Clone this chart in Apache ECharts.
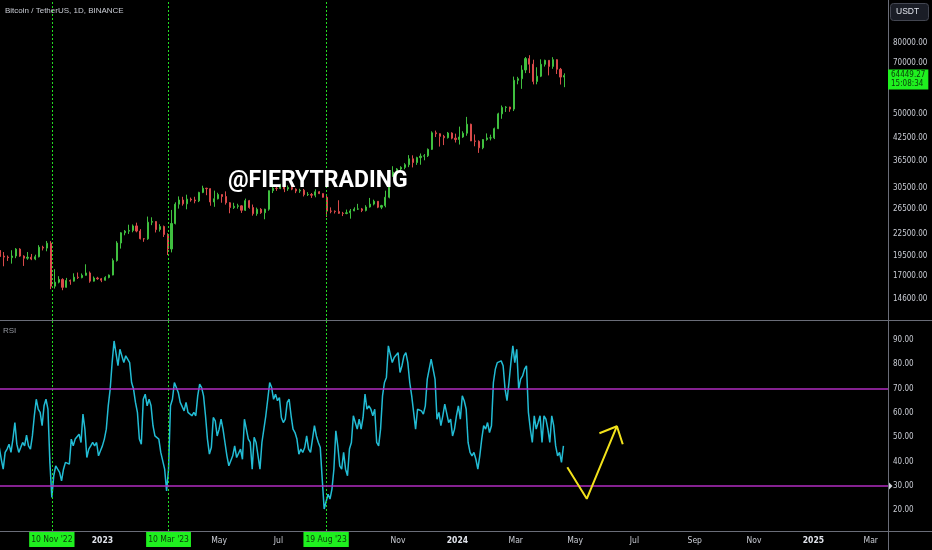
<!DOCTYPE html>
<html lang="en">
<head>
<meta charset="UTF-8">
<title>BTCUSDT 1D + RSI</title>
<style>
  *{margin:0;padding:0;}
  body{background:#000;}
  #main{width:932px;height:550px;}
</style>
<script src="https://cdn.jsdelivr.net/npm/echarts@6/dist/echarts.min.js"></script>
</head>
<body>
<div id="main"></div>
<script>
// BTC/USDT, one candle every 4 days: [open, close, low, high]
const candleStart = '2022-09-18';
const candleStep = 4;
const candles = [
  [19700,19420,19320,20200],[19420,19290,18150,19950],[19290,19220,18800,19500],[19220,19430,18470,20190],
  [19430,20340,19150,20480],[20340,19420,19320,20460],[19420,19150,18190,19520],[19150,19270,18950,19950],
  [19270,19040,18900,19700],[19040,19330,18900,19600],[19330,20600,19250,20880],[20600,20480,20160,20800],
  [20480,21150,20050,21470],[21150,15900,15590,21450],[15900,16330,15650,17800],[16330,16630,16200,16990],
  [16630,15780,15480,16760],[15780,16510,15750,16800],[16510,16440,16050,16620],[16440,16880,16400,17320],
  [16880,16830,16680,17410],[16830,17090,16750,17300],[17090,17360,17050,18390],
  [17360,16440,16270,17530],[16440,16780,16400,16960],[16780,16700,16590,16920],[16700,16540,16330,16790],
  [16540,16850,16500,16990],[16850,17120,16750,17180],[17120,18850,17090,19120],[18850,21180,18720,21440],
  [21180,22670,20410,22760],[22670,22920,22300,23080],[22920,23030,22500,23920],[23030,23730,22750,23960],
  [23730,22930,22740,24250],[22930,21800,21690,23230],[21800,21780,21350,21900],[21780,24320,21640,25250],
  [24320,24430,23850,25130],[24430,23170,22720,24480],[23170,23640,22850,24000],[23640,22410,22050,23780],
  [22410,20360,19550,22600],[20360,24110,19900,26390],[24110,27420,23970,27760],[27420,28180,26620,28870],
  [28180,27480,27150,28800],[27480,28350,26500,29200],[28350,28190,27870,28650],[28190,28030,27580,28800],
  [28030,29650,27800,29770],[29650,30480,29500,31000],[30480,30390,29100,30570],[30390,27820,27140,30470],
  [27820,28420,26940,30000],[28420,29230,28300,29580],[29230,28850,27680,29260],[28850,27680,27330,29850],
  [27680,26800,25810,27800],[26800,27030,26560,27670],[27030,27110,26620,27500],[27110,26330,25870,27200],
  [26330,28070,26200,28450],
  [28070,26820,26600,28200],[26820,25740,25400,27350],[25740,26500,25380,26800],[26500,25910,25700,26700],
  [25910,26510,24800,26600],[26510,29990,26250,30020],[29990,30470,29520,31430],[30470,30450,29950,31050],
  [30450,31160,30300,31380],[31160,30340,29700,31300],[30340,30620,29950,31050],[30620,30300,30080,31820],
  [30300,29920,29500,30450],[29920,30080,29550,30380],[30080,29210,28860,30340],[29210,29230,28950,29700],
  [29230,29100,28580,29530],[29100,29770,28700,30250],[29770,29410,29320,29900],[29410,28700,28650,29450],
  [28700,26190,25170,29100],[26190,26160,25810,26840],[26160,26100,25770,26300],[26100,25800,25700,28140],
  [25800,25780,25330,26050],[25780,25900,25640,26450],[25900,26220,24900,26560],[26220,26530,26170,26850],
  [26530,26570,26380,27480],[26570,26300,26010,26740],[26300,26910,26130,27230],[26910,27430,26800,28580],
  [27430,27950,27200,28250],[27950,26870,26700,27990],[26870,27160,26530,27300],[27160,28710,26850,30000],
  [28710,33080,28500,33650],[33080,33910,32880,35280],[33910,34640,33390,34850],[34640,35010,34100,35280],
  [35010,35640,34580,36000],[35640,37070,35060,37980],[37070,36160,35000,37930],[36160,37360,35600,37580],
  [37360,37720,35630,38400],[37720,37820,36700,38250],[37820,39460,37500,39700],[39460,44050,39300,44490],
  [44050,43790,42820,44700],[43790,43020,40200,43900],[43020,42650,40600,43450],[42650,43980,42400,44300],
  [43980,42520,42200,44200],[42520,42140,41300,43800],[42140,42840,40750,45900],[42840,43940,42600,44500],
  [43940,46630,43200,48970],[46630,41730,41700,46800],[41730,41620,40280,43580],[41620,39880,38550,41900],
  [39880,42120,39500,42250],[42120,42580,41800,43880],[42580,42600,41880,43500],[42600,45290,42250,45600],
  [45290,49960,45140,50340],[49960,52140,48350,52820],[52140,52260,50600,52580],[52260,51570,50650,52380],
  [51570,62430,50900,64000],[62430,63110,60800,63900],[63110,66880,59000,69000],
  [66880,72120,65500,72900],[72120,69500,65500,73780],[69500,61960,60770,71600],[61960,64160,60800,68100],
  [64160,69450,63780,71780],[69450,71300,68400,71600],[71300,68490,64500,71350],[68490,71620,67400,72800],
  [71620,67190,65100,71800],[67190,63790,60700,67800],[63790,64450,59650,65400]
];

// RSI(14), one reading every 2 days
const rsiStart = '2022-09-17';
const rsiStep = 2;
const rsi = [
  45.7,40.9,36.8,43.7,45.1,47.1, 43.7,49.2,56.0,47.1,43.7,45.7, 47.8,46.4,50.8,46.4,45.1,50.5,
  58.8,65.6,61.5,60.2,54.7,62.9, 65.6,61.5,39.6,25.2,34.1,38.2, 36.8,35.5,32.0,36.8,39.6,40.3,
  38.9,49.2,46.4,49.2,49.9,51.2, 47.8,59.5,53.3,41.6,45.1,46.4, 47.8,46.4,47.8,42.3,44.4,46.4,
  49.2,53.3,62.9,69.8,80.7,89.6, 89.0,79.4,86.2,85.5,80.7,83.5, 82.8,80.7,72.5,69.8,64.3,60.2,
  49.2,47.1,65.6,67.7,62.9,65.6, 62.9,54.7,50.5,50.5,49.2,43.7, 43.0,36.8,27.9,36.8,62.9,65.6,
  72.5,71.8,68.4,64.3,65.0,60.8, 64.3,60.2,60.8,58.8,60.2,58.8, 67.0,71.8,70.4,67.0,58.8,49.2,
  43.0,45.7,58.1,56.7,50.5,53.3, 57.4,53.3,47.8,42.3,38.2,40.3, 42.3,46.4,41.6,40.9,45.1,40.9,
  57.4,53.3,49.2,47.8,36.8,49.9, 47.8,42.3,36.8,47.8,53.3,58.8, 65.6,72.5,70.4,65.6,67.7,65.0,
  66.3,58.1,56.0,57.4,64.3,65.6, 58.8,53.3,51.9,49.2,43.0,45.1, 43.7,45.7,50.5,45.1,43.7,43.0,
  54.7,50.5,47.8,45.7,32.7,20.4, 19.7,26.5,24.5,28.6,36.8,52.6, 46.4,38.2,36.8,43.7,36.8,34.1,
  45.1,47.8,58.8,56.0,53.3,57.4, 53.3,58.1,67.7,61.5,62.9,61.5, 58.8,61.5,47.8,46.4,53.3,67.0,
  72.5,74.6,87.6,88.3,80.7,82.8, 83.5,84.8,76.6,79.4,83.5,84.8, 80.7,72.5,67.0,60.2,53.3,61.5,
  61.5,60.8,59.5,62.9,73.9,78.0, 82.1,78.0,73.9,57.4,60.2,54.7, 58.8,63.6,62.9,56.0,57.4,50.5,
  53.3,58.8,62.9,57.4,67.0,65.0, 61.5,47.8,43.7,42.3,43.7,40.9, 36.8,42.3,49.2,54.7,53.3,56.0,
  51.9,54.7,72.5,78.0,80.7,81.4, 81.4,79.4,69.8,65.0,72.5,80.7, 87.6,80.7,86.2,69.8,73.9,75.2,
  78.0,79.4,60.2,53.3,47.8,58.8, 53.3,56.0,58.8,47.8,58.8,57.4, 53.3,47.8,58.8,54.7,46.4,42.3,
  43.7,39.6,46.4
];

const priceTicks = [14600, 17000, 19500, 22500, 26500, 30500, 36500, 42500, 50000, 60000, 70000, 80000];
const rsiTicks = [20, 30, 40, 50, 60, 70, 80, 90];
const rsiBands = [70, 30];
const timeTicks = ['2023-01-01','2023-05-01','2023-07-01','2023-11-01','2024-01-01','2024-03-01',
                   '2024-05-01','2024-07-01','2024-09-01','2024-11-01','2025-01-01','2025-03-01'];
const markedDays = [['2022-11-10', "10 Nov '22"], ['2023-03-10', "10 Mar '23"], ['2023-08-19', "19 Aug '23"]];
const lastPrice = 64449.27;
const lastTime = '15:08:34';
// hand drawn projection on the RSI pane
const arrowPath = [['2024-04-23', 37.6], ['2024-05-13', 24.6], ['2024-06-13', 54.5]];
const arrowHead = [['2024-05-26', 51.6], ['2024-06-13', 54.5], ['2024-06-19', 47.1]];

const DAY = 864e5;
const day = s => Date.parse(s + 'T00:00:00Z');
const xMin = Date.UTC(2022, 8, 17, 17);
const xMax = Date.UTC(2025, 2, 18, 17);
const months = ['Jan','Feb','Mar','Apr','May','Jun','Jul','Aug','Sep','Oct','Nov','Dec'];

const txt = '#c9ccd4';
const axisFont = "'Liberation Sans Narrow', 'DejaVu Sans Condensed', sans-serif";
const up = '#3fbf3f', down = '#d94a4a';
const sepColor = '#6a6d78';
const purple = '#b02cc0';

let chart = echarts.init(document.getElementById('main'));

// x axes are plain value axes holding UTC timestamps
let candleData = candles.map((c, i) => [day(candleStart) + i * candleStep * DAY, c[0], c[1], c[2], c[3]]);
let rsiData = rsi.map((v, i) => [day(rsiStart) + i * rsiStep * DAY, v]);

let dotted = {color: '#22dd22', type: [2, 2], width: 1};

let option = {
  backgroundColor: '#000',
  animation: false,
  title: [
    {text: 'Bitcoin / TetherUS, 1D, BINANCE', left: 5, top: 7, padding: 0,
     textStyle: {color: txt, fontSize: 8, fontWeight: 'normal', fontFamily: 'sans-serif'}},
    {text: 'RSI', left: 3, top: 327, padding: 0,
     textStyle: {color: '#9598a1', fontSize: 8, fontWeight: 'normal', fontFamily: 'sans-serif'}}
  ],
  grid: [
    {left: 0, right: 44, top: 0, height: 320},
    {left: 0, right: 44, top: 320, height: 211}
  ],
  xAxis: [
    {type: 'value', gridIndex: 0, min: xMin, max: xMax, show: false},
    {type: 'value', gridIndex: 1, min: xMin, max: xMax,
     axisLine: {show: false}, axisTick: {show: false}, splitLine: {show: false},
     axisLabel: {
       customValues: timeTicks.map(day), margin: 5, color: txt, fontSize: 8.5, fontFamily: axisFont,
       formatter: v => {
         let d = new Date(v);
         return d.getUTCMonth() === 0 ? '{y|' + d.getUTCFullYear() + '}' : months[d.getUTCMonth()];
       },
       rich: {y: {fontWeight: 'bold', color: '#e0e3eb', fontSize: 8.5, fontFamily: axisFont}}
     }}
  ],
  yAxis: [
    {type: 'log', gridIndex: 0, position: 'right', min: 12700, max: 106460,
     axisLine: {show: false}, axisTick: {show: false}, splitLine: {show: false},
     axisLabel: {customValues: priceTicks, formatter: v => Math.round(v).toFixed(2),
                 color: txt, fontSize: 8, fontFamily: axisFont, margin: 5}},
    {type: 'value', gridIndex: 1, position: 'right', min: 11.35, max: 98.24,
     axisLine: {show: false}, axisTick: {show: false}, splitLine: {show: false},
     axisLabel: {customValues: rsiTicks, formatter: v => v.toFixed(2),
                 color: txt, fontSize: 8, fontFamily: axisFont, margin: 5}}
  ],
  series: [
    {
      name: 'BTCUSDT', type: 'candlestick', xAxisIndex: 0, yAxisIndex: 0,
      data: candleData, barWidth: 1.6,
      itemStyle: {color: up, color0: down, borderColor: up, borderColor0: down, borderWidth: 1},
      markLine: {
        silent: true, symbol: 'none', lineStyle: dotted, label: {show: false},
        data: markedDays.map(d => ({xAxis: day(d[0])})).concat([{
          yAxis: lastPrice,
          lineStyle: {color: 'rgba(0,0,0,0)', type: 'solid'},
          label: {
            show: true, position: 'end', distance: 0, offset: [0, 4],
            formatter: lastPrice.toFixed(2) + '\n' + lastTime,
            backgroundColor: '#1ff01f', color: '#0a3a0a', fontSize: 8, lineHeight: 9,
            fontFamily: axisFont, padding: [1, 3, 1, 3]
          }
        }])
      }
    },
    {
      name: 'RSI', type: 'line', xAxisIndex: 1, yAxisIndex: 1, z: 3,
      data: rsiData, showSymbol: false,
      lineStyle: {color: '#22bcd4', width: 1.5},
      markLine: {
        silent: true, symbol: 'none', lineStyle: dotted,
        label: {
          show: true, position: 'start', distance: 1, formatter: '{b}',
          backgroundColor: '#1ff01f', color: '#0a3a0a', fontSize: 8.5,
          fontFamily: axisFont, padding: [3, 2]
        },
        data: markedDays.map(d => ({xAxis: day(d[0]), name: d[1]}))
      }
    },
    {
      name: 'RSI bands', type: 'line', xAxisIndex: 1, yAxisIndex: 1, z: 2,
      data: [], showSymbol: false,
      markLine: {
        silent: true, symbol: 'none', label: {show: false},
        lineStyle: {color: purple, width: 1.5, type: 'solid', opacity: 1},
        data: rsiBands.map(v => ({yAxis: v}))
      }
    },
    {
      name: 'projection', type: 'line', xAxisIndex: 1, yAxisIndex: 1, z: 5,
      data: arrowPath.map(p => [day(p[0]), p[1]]), showSymbol: false,
      lineStyle: {color: '#f2e21b', width: 2}
    },
    {
      name: 'projection head', type: 'line', xAxisIndex: 1, yAxisIndex: 1, z: 5,
      data: arrowHead.map(p => [day(p[0]), p[1]]), showSymbol: false,
      lineStyle: {color: '#f2e21b', width: 2}
    }
  ],
  graphic: [
    {type: 'line', shape: {x1: 888.5, y1: 0, x2: 888.5, y2: 550}, style: {stroke: sepColor, lineWidth: 1}, silent: true},
    {type: 'line', shape: {x1: 0, y1: 320.5, x2: 932, y2: 320.5}, style: {stroke: sepColor, lineWidth: 1}, silent: true},
    {type: 'line', shape: {x1: 0, y1: 531.5, x2: 932, y2: 531.5}, style: {stroke: sepColor, lineWidth: 1}, silent: true},
    {type: 'rect', shape: {x: 890.5, y: 3.5, width: 38, height: 17, r: 3},
     style: {fill: '#1a1d26', stroke: '#434651', lineWidth: 1}, silent: true},
    {type: 'text', x: 896, y: 12, silent: true,
     style: {text: 'USDT', fill: '#e0e3eb', fontSize: 8.5, fontFamily: 'sans-serif', verticalAlign: 'middle'}},
    {type: 'polygon', shape: {points: [[889, 482.5], [892.5, 486], [889, 489.5]]}, style: {fill: '#d1d4dc'}, silent: true},
    {type: 'text', x: 228, y: 181, z: 10, silent: true,
     style: {text: '@FIERYTRADING', fill: '#ffffff', fontSize: 23, fontWeight: 'bold',
             fontFamily: 'Roboto, sans-serif', verticalAlign: 'middle'}}
  ]
};
chart.setOption(option);
</script>
</body>
</html>
